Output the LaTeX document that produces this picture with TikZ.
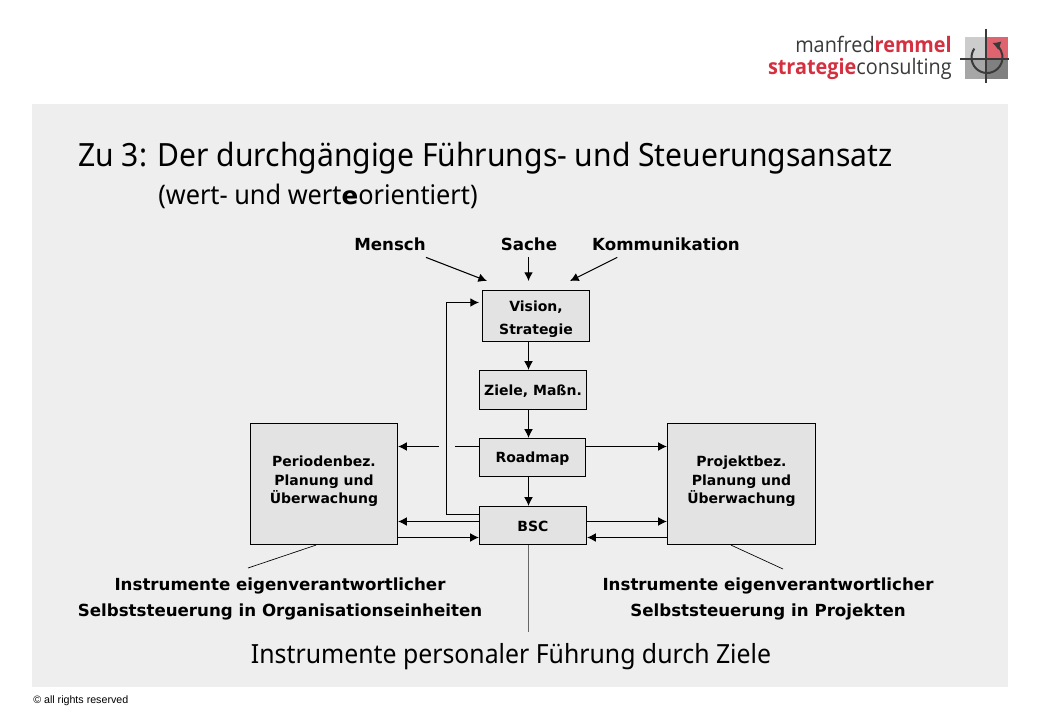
\documentclass[tikz,border=0pt]{standalone}
\usepackage{fontspec}
\setmainfont{Noto Sans}[FakeStretch=0.94]
\newfontfamily\boldface{DejaVu Sans}
\newfontfamily\logoface{Open Sans}[FakeStretch=0.93]
\newfontfamily\smallface{Liberation Sans}
\usetikzlibrary{arrows.meta}
\definecolor{panelgray}{HTML}{EEEEEE}
\definecolor{boxgray}{HTML}{E3E3E3}
\definecolor{logored}{HTML}{D5303F}
\definecolor{logodark}{HTML}{3A3A3A}
\newcommand{\pushdown}[1]{\rule{0pt}{#1}}
\newcommand{\pushup}[1]{\rule[-#1]{0pt}{#1}}
\tikzset{
    block/.style ={
        shape=rectangle,
        draw=black,
        fill=boxgray,
        line width=0.9pt,
        inner sep=0pt,
        align=center,
        font=\boldface\bfseries\fontsize{10.5}{14}\selectfont
    },
    headword/.style ={
        inner xsep=0pt,
        inner ysep=5pt,
        font=\boldface\bfseries\fontsize{12.5}{15}\selectfont
    },
    note/.style ={
        inner sep=0pt,
        align=center,
        font=\boldface\bfseries\fontsize{12.5}{19.5}\selectfont
    },
    logotext/.style ={
        anchor=base east,
        inner sep=0pt,
        text=logodark,
        font=\logoface\fontsize{16}{16}\selectfont
    },
    arr/.style ={
        draw=black,
        line width=0.8pt,
        -{Latex[length=6.5pt,width=6.5pt]}
    },
    plain/.style ={
        draw=black,
        line width=0.8pt
    }
}

\begin{document}
\begin{tikzpicture}[x=0.75pt,y=-0.75pt]
    \useasboundingbox (0,0) rectangle (1040,720);
    \fill[white] (0,0) rectangle (1040,720);
    \fill[panelgray] (32,104) rectangle (1008,687);
    % logo
    \node[logotext] (logoa) at(952,53) {manfred\textcolor{logored}{\bfseries remmel}};
    \node[logotext] (logob) at(952,75) {\textcolor{logored}{\bfseries strategie}consulting};
    \fill[black!20] (965,37) rectangle (985,58);
    \fill[logored!75] (987,37) rectangle (1008,58);
    \fill[black!35] (965,60) rectangle (985,79);
    \fill[black!50] (987,60) rectangle (1008,79);
    \draw[line width=0.9pt,logodark] (986,29) -- (986,83);
    \draw[line width=0.9pt,logodark] (960,59) -- (1009,59);
    \draw[line width=1.5pt,logodark,-{Latex[length=6pt,width=7pt]}] (987,57.5) ++(-145:15.5) arc (-145:-430:15.5);
    % heading
    \node[anchor=west,inner sep=0pt,font=\fontsize{24}{24}\selectfont] (title) at(78,158) {Zu 3: Der durchgängige Führungs- und Steuerungsansatz};
    \node[anchor=west,inner sep=0pt,font=\fontsize{20.2}{20.2}\selectfont] (subtitle) at(158,196) {(wert- und wert{\boldface\bfseries\fontsize{18.5}{20}\selectfont e}orientiert)};
    % top words
    \node[headword] (mensch) at(390,244) {Mensch};
    \node[headword] (sache) at(529,244) {Sache};
    \node[headword] (komm) at(666,244) {Kommunikation};
    % boxes
    \node[block,minimum width=80.25pt,minimum height=38.25pt] (vision) at(536,316) {\pushdown{12.5pt}Vision,\\[3pt]Strategie};
    \node[block,minimum width=80.25pt,minimum height=29.25pt] (ziele) at(533,390) {\pushdown{9.5pt}Ziele, Maßn.};
    \node[block,minimum width=79.5pt,minimum height=28.5pt] (roadmap) at(532.5,457.5) {\pushdown{9.5pt}Roadmap};
    \node[block,minimum width=80.25pt,minimum height=28.5pt] (bsc) at(533,525.5) {\pushdown{9.5pt}BSC};
    \node[block,minimum width=110.25pt,minimum height=90.75pt] (period) at(324,484) {Periodenbez.\\Planung und\\Überwachung\pushup{6pt}};
    \node[block,minimum width=111pt,minimum height=90.75pt] (projekt) at(741.5,484) {Projektbez.\\Planung und\\Überwachung\pushup{6pt}};
    % bottom texts
    \node[note] (noteleft) at(280,599) {Instrumente eigenverantwortlicher\\Selbststeuerung in Organisationseinheiten};
    \node[note] (noteright) at(768,599) {Instrumente eigenverantwortlicher\\Selbststeuerung in Projekten};
    \node[inner sep=0pt,font=\fontsize{19.8}{19.8}\selectfont] (bottomline) at(511,657) {Instrumente personaler Führung durch Ziele};
    \node[anchor=west,inner sep=0pt,font=\smallface\fontsize{8}{8}\selectfont] (rights) at(33,701) {© all rights reserved};
    % free ends
    \coordinate (spine) at(528.5,0);
    \coordinate (back) at(446.5,0);
    \coordinate (inmensch) at(487,281);
    \coordinate (insache) at(528.5,281);
    \coordinate (inkomm) at(570,281);
    \coordinate (backend) at(479,302.5);
    \coordinate (gapright) at(455,446.5);
    \coordinate (gapleft) at(438.5,446.5);
    \coordinate (pointleft) at(248,568);
    \coordinate (pointright) at(783,569);
    \coordinate (pointdown) at(528.5,632);
    % connectors
    \draw[arr] (mensch.south east) -- (inmensch);
    \draw[arr] (spine|-sache.south) -- (insache);
    \draw[arr] ([xshift=19pt]komm.south west) -- (inkomm);
    \draw[arr] (spine|-vision.south) -- (spine|-ziele.north);
    \draw[arr] (spine|-ziele.south) -- (spine|-roadmap.north);
    \draw[arr] (spine|-roadmap.south) -- (spine|-bsc.north);
    \draw[arr] (bsc.west|-0,514.5) -- (back|-0,514.5) -- (back|-backend) -- (backend);
    \draw[plain] (roadmap.west|-gapright) -- (gapright);
    \draw[arr] (gapleft) -- (period.east|-gapleft);
    \draw[arr] (roadmap.east|-gapright) -- (projekt.west|-gapright);
    \draw[arr] (bsc.west|-0,521.5) -- (period.east|-0,521.5);
    \draw[arr] (period.east|-0,537.5) -- (bsc.west|-0,537.5);
    \draw[arr] (bsc.east|-0,521.5) -- (projekt.west|-0,521.5);
    \draw[arr] (projekt.west|-0,537.5) -- (bsc.east|-0,537.5);
    \draw[line width=0.5pt] (316,0|-period.south) -- (pointleft);
    \draw[line width=0.5pt] (731,0|-projekt.south) -- (pointright);
    \draw[line width=1.1pt,black!60] (spine|-bsc.south) -- (pointdown);
\end{tikzpicture}
\end{document}
